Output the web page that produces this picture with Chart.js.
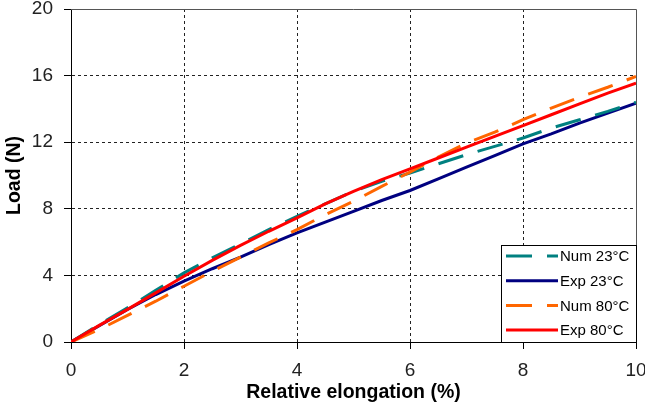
<!DOCTYPE html>
<html>
<head>
<meta charset="utf-8">
<script src="https://cdn.jsdelivr.net/npm/chart.js@4.4.1/dist/chart.umd.min.js"></script>
<style>
  html, body { margin: 0; padding: 0; background: #fff; }
  #chart { display: block; }
</style>
</head>
<body>
<canvas id="chart" width="645" height="409"></canvas>
<script>
const elongation = [0, 0.5, 1, 1.5, 2, 2.5, 3, 3.5, 4, 4.5, 5, 5.5, 6, 6.5, 7, 7.5, 8, 8.5, 9, 9.5, 10];
const num23 = [0, 1.05, 2.05, 3.1, 4.15, 5.05, 5.9, 6.75, 7.55, 8.3, 9.05, 9.65, 10.15, 10.7, 11.25, 11.75, 12.25, 12.85, 13.35, 13.85, 14.4];
const exp23 = [0, 0.98, 1.95, 2.85, 3.65, 4.4, 5.1, 5.85, 6.55, 7.2, 7.85, 8.5, 9.1, 9.8, 10.5, 11.2, 11.9, 12.5, 13.15, 13.75, 14.35];
const num80 = [0, 0.75, 1.6, 2.45, 3.35, 4.25, 5.1, 5.95, 6.75, 7.65, 8.45, 9.35, 10.2, 11.1, 11.95, 12.6, 13.35, 14.05, 14.7, 15.3, 15.95];
const exp80 = [0, 1.0, 1.96, 2.95, 3.95, 4.9, 5.8, 6.65, 7.45, 8.3, 9.05, 9.75, 10.4, 11.05, 11.7, 12.35, 13.0, 13.65, 14.3, 14.95, 15.55];

const seriesNames = ['Num 23°C', 'Exp 23°C', 'Num 80°C', 'Exp 80°C'];
const seriesColors = ['#008080', '#000080', '#ff6600', '#ff0000'];
const seriesDash = [[26, 15], [], [26, 15], []];
const seriesValues = [num23, exp23, num80, exp80];
const drawOrder = [2, 3, 1, 0];

const FONT = '"Liberation Sans", Arial, sans-serif';

const toPoints = ys => elongation.map((x, i) => ({ x: x, y: ys[i] }));

// white framed legend sitting in the lower right of the plot
const boxLegend = {
    id: 'boxLegend',
    afterDraw(chart) {
        const { ctx, chartArea: a } = chart;
        ctx.save();
        // top / right frame
        ctx.strokeStyle = '#555';
        ctx.lineWidth = 1;
        ctx.beginPath();
        ctx.moveTo(a.left, a.top + 0.5);
        ctx.lineTo(a.right + 0.5, a.top + 0.5);
        ctx.lineTo(a.right + 0.5, a.bottom);
        ctx.stroke();

        const x0 = 501.5, y0 = 245.5;
        ctx.fillStyle = '#fff';
        ctx.fillRect(x0, y0, a.right + 0.5 - x0, a.bottom - y0);
        ctx.strokeStyle = '#000';
        ctx.strokeRect(x0, y0, a.right + 0.5 - x0, a.bottom + 0.5 - y0);

        ctx.font = '15px ' + FONT;
        ctx.textBaseline = 'middle';
        ctx.textAlign = 'left';
        seriesNames.forEach((name, i) => {
            const y = 256 + i * 24.7;
            ctx.strokeStyle = seriesColors[i];
            ctx.lineWidth = 3;
            ctx.setLineDash(seriesDash[i]);
            ctx.beginPath();
            ctx.moveTo(506, y);
            ctx.lineTo(558, y);
            ctx.stroke();
            ctx.setLineDash([]);
            ctx.fillStyle = '#000';
            ctx.fillText(name, 560, y + 1);
        });
        ctx.restore();
    }
};

new Chart(document.getElementById('chart'), {
    type: 'line',
    data: {
        datasets: seriesNames.map((name, i) => ({
            label: name,
            data: toPoints(seriesValues[i]),
            borderColor: seriesColors[i],
            borderWidth: 3,
            borderDash: seriesDash[i],
            pointRadius: 0,
            tension: 0,
            fill: false,
            order: drawOrder[i]
        }))
    },
    options: {
        responsive: false,
        animation: false,
        layout: { padding: { left: 0, top: 9, right: 9, bottom: 0 } },
        plugins: { legend: { display: false }, tooltip: { enabled: false } },
        scales: {
            x: {
                type: 'linear',
                min: 0,
                max: 10,
                ticks: { stepSize: 2, color: '#222', padding: 10, font: { family: FONT, size: 19 } },
                grid: {
                    color: c => (c.tick && (c.tick.value === 0 || c.tick.value === 10)) ? 'rgba(0,0,0,0)' : '#222',
                    lineWidth: 1,
                    tickLength: 7,
                    tickColor: '#000'
                },
                border: { display: true, color: '#000', width: 1, dash: [3, 3] },
                title: {
                    display: true,
                    text: 'Relative elongation (%)',
                    color: '#000',
                    padding: { top: 0, bottom: 5 },
                    font: { family: FONT, size: 19.5, weight: 'bold' }
                },
                afterFit: s => {
                    s.height = 67;
                    s.paddingLeft = 0;
                    s.paddingRight = 0;
                }
            },
            y: {
                type: 'linear',
                min: 0,
                max: 20,
                ticks: { stepSize: 4, color: '#222', padding: 11, font: { family: FONT, size: 19 } },
                grid: {
                    color: c => (c.tick && (c.tick.value === 0 || c.tick.value === 20)) ? 'rgba(0,0,0,0)' : '#222',
                    lineWidth: 1,
                    tickLength: 7,
                    tickColor: '#000'
                },
                border: { display: true, color: '#000', width: 1, dash: [3, 3] },
                title: {
                    display: true,
                    text: 'Load (N)',
                    color: '#000',
                    padding: { top: 3, bottom: 0 },
                    font: { family: FONT, size: 19.5, weight: 'bold' }
                },
                afterFit: s => {
                    s.width = 71;
                    s.paddingTop = 0;
                    s.paddingBottom = 0;
                }
            }
        }
    },
    plugins: [boxLegend]
});
</script>
</body>
</html>
